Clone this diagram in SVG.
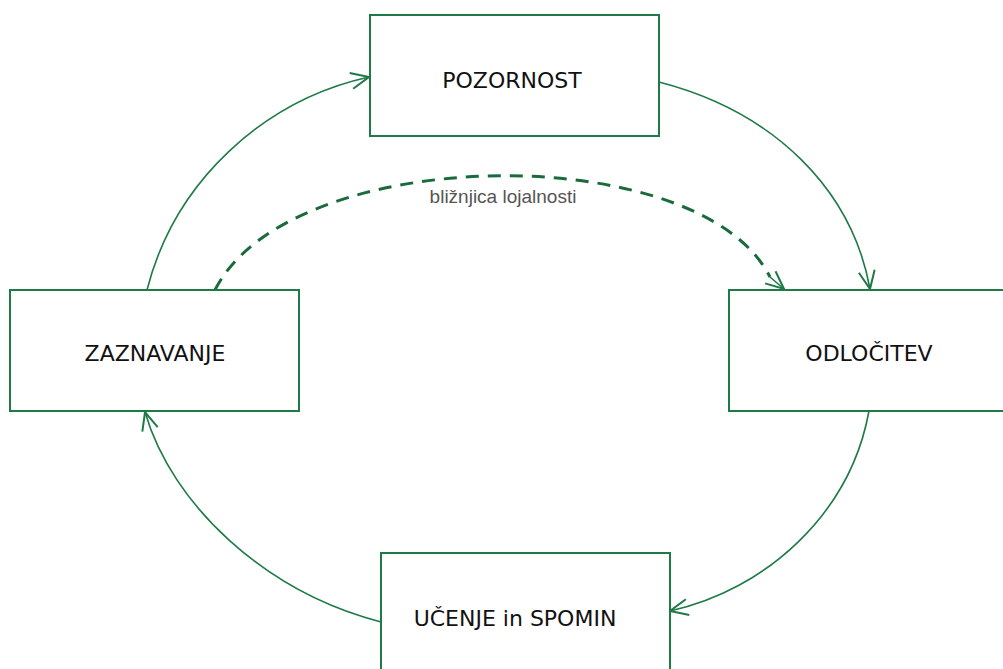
<svg xmlns="http://www.w3.org/2000/svg" width="1003" height="669" viewBox="0 0 1003 669">
<style>
.box{fill:#fff;stroke:#1e7a46;stroke-width:2}
.lbl{font-family:"DejaVu Sans",Verdana,sans-serif;font-size:22px;fill:#111;text-anchor:middle}
.edge{fill:none;stroke:#1e7a46;stroke-width:1.6}
.dash{fill:none;stroke:#1a6b3c;stroke-width:3;stroke-dasharray:13 9}
.note{font-family:"Liberation Sans",Arial,sans-serif;font-size:19px;fill:#555;text-anchor:middle}
</style>
<defs>
<marker id="arr" markerUnits="userSpaceOnUse" markerWidth="30" markerHeight="30" viewBox="-20 -15 30 30" refX="0" refY="0" orient="auto">
<path d="M-18,-8 L0,0 L-18,8" fill="none" stroke="#1e7a46" stroke-width="2"/>
</marker>
</defs>
<rect width="1003" height="669" fill="#fff"/>
<g id="connectors">
<path class="edge" d="M147,290 C175,180 265,100 369,77" marker-end="url(#arr)"/>
<path class="edge" d="M659,82 C775,112 852,190 870,289" marker-end="url(#arr)"/>
<path class="edge" d="M869,411 C850,515 765,590 670,611" marker-end="url(#arr)"/>
<path class="edge" d="M381,622 C265,592 172,505 145,412" marker-end="url(#arr)"/>
<path class="dash" d="M215,290 C290,142 700,138 770,277"/>
<path class="edge" d="M770,277 L784,289" marker-end="url(#arr)"/>
<text class="note" x="503" y="203">bližnjica lojalnosti</text>
</g>
<g id="pozornost">
<rect class="box" x="370" y="15" width="289" height="121"/>
<text class="lbl" x="512" y="88">POZORNOST</text>
</g>
<g id="zaznavanje">
<rect class="box" x="10" y="290" width="289" height="121"/>
<text class="lbl" x="155" y="361">ZAZNAVANJE</text>
</g>
<g id="odlocitev">
<rect class="box" x="729" y="290" width="289" height="121"/>
<text class="lbl" x="869" y="361">ODLOČITEV</text>
</g>
<g id="ucenje">
<rect class="box" x="381" y="553" width="289" height="121"/>
<text class="lbl" x="515" y="626">UČENJE in SPOMIN</text>
</g>
</svg>
